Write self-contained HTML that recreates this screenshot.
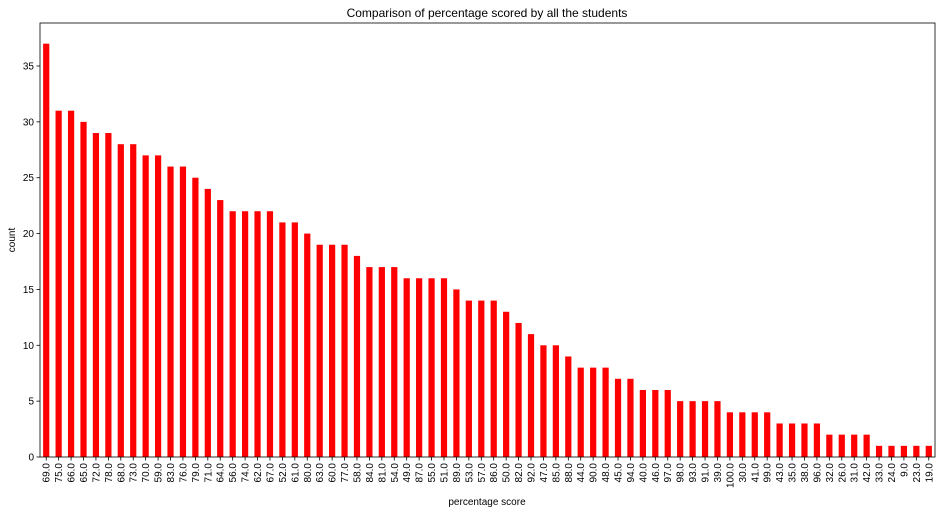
<!DOCTYPE html>
<html><head><meta charset="utf-8"><style>
body{margin:0;background:#fff;}
svg text{font-family:"Liberation Sans",sans-serif;fill:#000;}
</style></head><body>
<svg id="chart" width="940" height="514" xmlns="http://www.w3.org/2000/svg">
<rect width="940" height="514" fill="#fff"/>
<text x="487" y="17" font-size="12" text-anchor="middle">Comparison of percentage scored by all the students</text>
<g id="bars"></g>
<g id="axes"></g>
<text x="487" y="505" font-size="10" text-anchor="middle">percentage score</text>
<text transform="translate(15,240) rotate(-90)" font-size="10" text-anchor="middle">count</text>
</svg>
<script>
const categories=["69.0","75.0","66.0","65.0","72.0","78.0","68.0","73.0","70.0","59.0","83.0","76.0","79.0","71.0","64.0","56.0","74.0","62.0","67.0","52.0","61.0","80.0","63.0","60.0","77.0","58.0","84.0","81.0","54.0","49.0","87.0","55.0","51.0","89.0","53.0","57.0","86.0","50.0","82.0","92.0","47.0","85.0","88.0","44.0","90.0","48.0","45.0","94.0","40.0","46.0","97.0","98.0","93.0","91.0","39.0","100.0","30.0","41.0","99.0","43.0","35.0","38.0","96.0","32.0","26.0","31.0","42.0","33.0","24.0","9.0","23.0","19.0"];
const counts=[37,31,31,30,29,29,28,28,27,27,26,26,25,24,23,22,22,22,22,21,21,20,19,19,19,18,17,17,17,16,16,16,16,15,14,14,14,13,12,11,10,10,9,8,8,8,7,7,6,6,6,5,5,5,5,4,4,4,4,3,3,3,3,2,2,2,2,1,1,1,1,1];
const yTicks=[0,5,10,15,20,25,30,35];
const NS="http://www.w3.org/2000/svg";
const L=40,R=935,T=23,B=457;
const yMax=Math.max(...counts)*1.05;
const n=categories.length;
const step=(R-L)/n;
const xs=i=>L+(i+0.5)*step;
const ys=v=>B-(v/yMax)*(B-T);
function mk(tag,attrs,parent){const e=document.createElementNS(NS,tag);for(const k in attrs)e.setAttribute(k,attrs[k]);parent.appendChild(e);return e;}
const bars=document.getElementById('bars'),axes=document.getElementById('axes');
counts.forEach((v,i)=>{
  const r=mk('rect',{x:xs(i)-step*0.25,y:ys(v),width:step*0.5,height:B-ys(v),fill:'#ff0000'},bars);
  
  
  mk('line',{x1:xs(i),x2:xs(i),y1:B,y2:B+3.5,stroke:'#000','stroke-width':0.8},axes);
  const t=mk('text',{transform:`translate(${xs(i)+3.5},${B+6}) rotate(-90)`,'font-size':10,'text-anchor':'end'},axes);
  t.textContent=categories[i];
  
  
});
yTicks.forEach(v=>{
  mk('line',{x1:L-3.5,x2:L,y1:ys(v),y2:ys(v),stroke:'#000','stroke-width':0.8},axes);
  const t=mk('text',{x:L-6,y:ys(v)+3.5,'font-size':10,'text-anchor':'end'},axes);
  t.textContent=v;
  
  
});
const f=mk('rect',{x:L,y:T,width:R-L,height:B-T,fill:'none',stroke:'#000','stroke-width':0.8},axes);


</script>
</body></html>
